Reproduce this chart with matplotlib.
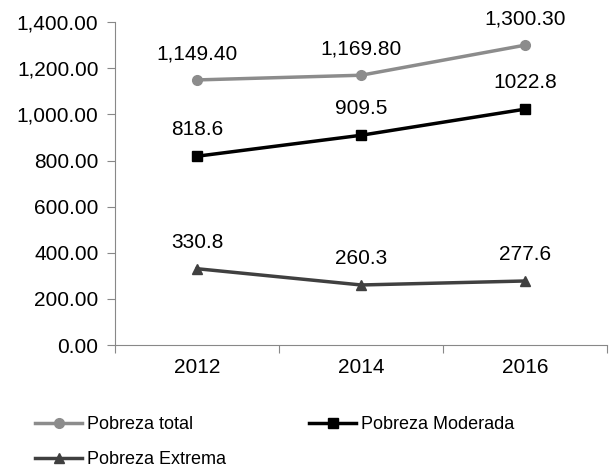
import numpy as np
import matplotlib.pyplot as plt
from matplotlib.ticker import FuncFormatter

plt.rcParams['font.family'] = ['Liberation Sans', 'DejaVu Sans']

years = ['2012', '2014', '2016']
pobreza_total = [1149.4, 1169.8, 1300.3]
pobreza_moderada = [818.6, 909.5, 1022.8]
pobreza_extrema = [330.8, 260.3, 277.6]

labels_total = ['1,149.40', '1,169.80', '1,300.30']
labels_moderada = ['818.6', '909.5', '1022.8']
labels_extrema = ['330.8', '260.3', '277.6']

fig = plt.figure(figsize=(6.09, 4.71), dpi=100)
ax = fig.add_axes([0.189, 0.2675, 0.808, 0.6855])

x = np.arange(len(years))
series = [
    ('Pobreza total', pobreza_total, labels_total, '#8c8c8c', 'o'),
    ('Pobreza Moderada', pobreza_moderada, labels_moderada, '#000000', 's'),
    ('Pobreza Extrema', pobreza_extrema, labels_extrema, '#404040', '^'),
]
handles = {}
for name, vals, labs, col, mk in series:
    h, = ax.plot(x, vals, color=col, marker=mk, markersize=7, linewidth=2.5, label=name)
    handles[name] = h
    for xi, v, t in zip(x, vals, labs):
        ax.annotate(t, (xi, v), xytext=(0, 15), textcoords='offset points',
                    ha='center', va='baseline', fontsize=15)

ax.set_xlim(-0.5, 2.5)
ax.set_ylim(0, 1400)
ax.set_yticks(np.arange(0, 1401, 200))
ax.yaxis.set_major_formatter(FuncFormatter(lambda v, p: f'{v:,.2f}'))
ax.set_xticks([-0.5, 0.5, 1.5, 2.5])
ax.set_xticklabels([])
ax.set_xticks(x, minor=True)
ax.set_xticklabels(years, minor=True)
ax.tick_params(axis='x', which='minor', length=0, pad=9, labelsize=15)
ax.tick_params(axis='x', which='major', length=6, color='#888888', direction='out')
ax.tick_params(axis='y', length=6, color='#888888', labelsize=15, pad=6)

for s in ['top', 'right']:
    ax.spines[s].set_visible(False)
for s in ['left', 'bottom']:
    ax.spines[s].set_color('#888888')

# legend filled column by column: total, extrema | moderada
order = ['Pobreza total', 'Pobreza Extrema', 'Pobreza Moderada']
fig.legend(handles=[handles[k] for k in order], loc='lower left',
           bbox_to_anchor=(0.031, -0.028),
           ncol=2, frameon=False, fontsize=13, handlelength=2.6,
           handletextpad=0.28, columnspacing=4.6, labelspacing=1.0)

fig.savefig('out.png', dpi=100)
